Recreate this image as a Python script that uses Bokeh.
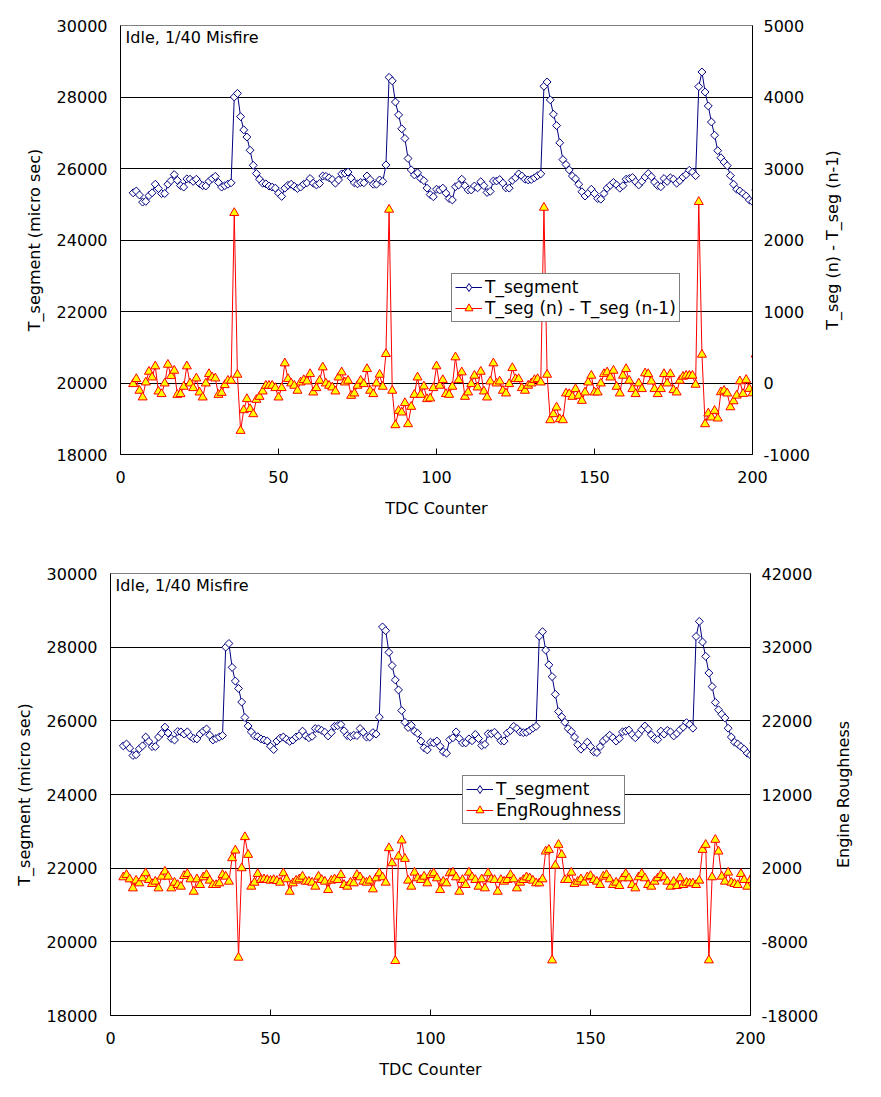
import math
from bokeh.plotting import figure
from bokeh.models import (Range1d, LinearAxis, FixedTicker, Label, Legend, LegendItem,
                          NumeralTickFormatter)
from bokeh.layouts import column, row
from bokeh.embed import file_html
from bokeh.resources import INLINE

FONT = "DejaVu Sans"

# ---------------- data ----------------
tdc = list(range(4, 202))

t_segment = [
    25320, 25370, 25260, 25060, 25080, 25240, 25320, 25560, 25440, 25300,
    25300, 25560, 25660, 25830, 25670, 25520, 25480, 25710, 25700, 25640,
    25700, 25580, 25520, 25510, 25640, 25720, 25780, 25610, 25480, 25520,
    25560, 25600,
    28000, 28100, 27450, 27080, 26880, 26510, 26090, 25860, 25700, 25590,
    25570, 25510, 25480, 25450, 25310, 25220,
    25450, 25530, 25560, 25500, 25440, 25480, 25560, 25600, 25720, 25590,
    25540, 25580, 25790, 25780, 25740, 25690, 25590, 25680, 25850, 25870,
    25900, 25730, 25600, 25570, 25610, 25600, 25790, 25690, 25560, 25560,
    25680, 25640, 26100,
    28550, 28450, 27860, 27500, 27110, 26840, 26280, 25960, 25820, 25880,
    25720, 25660, 25450, 25270, 25210, 25420, 25400,
    25450, 25310, 25160, 25120, 25490, 25540, 25700, 25520, 25400, 25400,
    25510, 25460, 25630, 25520, 25330, 25360, 25650, 25650, 25690, 25590,
    25460, 25450, 25670, 25740, 25850, 25790, 25700, 25680, 25690, 25740,
    25800, 25850,
    28300, 28420, 27920, 27520, 27200, 26720, 26250, 26110, 25960, 25790,
    25710,
    25560, 25350, 25230, 25310, 25420, 25300, 25160, 25140, 25300, 25450,
    25530, 25610, 25540, 25450, 25520, 25700, 25720, 25750, 25630, 25540,
    25640, 25760, 25860, 25770, 25620, 25520, 25490, 25720, 25640, 25740,
    25700, 25590, 25660, 25760, 25830, 25950, 25900, 25800,
    28290, 28700, 28140, 27750, 27300, 26930, 26500, 26300, 26180, 26080,
    25800, 25560, 25420, 25370, 25300, 25230, 25120, 25070, 25400,
]

seg_diff = [
    -14, 56, -107, -200, 9, 159, 79, 234, -117, -154,
    -5, 257, 98, 173, -164, -154, -51, 234, -5, -70,
    65, -131, -201, -5, 126, 79, 65, -164, -136, -28,
    33, 33,
    2379, 117, -668, -379, -224, -364, -435, -234, -192, -117,
    -37, -37, -37, -70, -201, -70,
    276, 56, -5, -37, -107, 9, 42, 23, 126, -131,
    -70, 33, 220, -5, -37, -61, -117, 79, 150, 9,
    33, -178, -145, -37, 33, -14, 196, -107, -154, -5,
    117, -51, 407, 2425,
    -107, -589, -388, -411, -280, -575, -332, -164, 79, -164,
    -47, -224, -215, -70, 234, -37,
    42, -154, -164, -51, 360, 42, 150, -192, -131, -14,
    103, -61, 159, -117, -201, 23, 276, -5, 23, -107,
    -145, -14, 210, 56, 56, -70, -107, -37, -5, 42,
    56, 9,
    2453, 117, -519, -435, -341, -505, -519, -145, -154, -192,
    -84, -178,
    -248, -131, 9, 103, -131, -131, -5, 126, 150, 79,
    173, -51, -145, 103, 196, 33, -84, -154, -5, -84,
    136, 126, 23, -84, -154, -84, 126, -5, 126, -98,
    -131, 33, 89, 103, 103, 103, -23,
    2533, 397, -575, -425, -481, -388, -495, -128, -107, -145,
    -338, -254, -175, 25, -151, 45, -81, -143, 400,
]

eng_roughness = [
    773, 1091, 500, -727, 318, -45, 636, 1318, 409, -136,
    182, -727, 864, 1545, 864, -727, 45, -273, -500, 955,
    1227, 500, -1182, 500, -273, 773, 1091, 318, -273, -273,
    -45, 1091, 864, 182,
    3364, 4409, -10135, 2000, 6227, 3818, -500,
    45, 1227, 409, 500, 409, 318, 409, 273, 45, 1318,
    500, -1182, -45, 318, 500, 864, 182, 182, 45, -500,
    864, 409, 182, -955, 318, 500, 409, 1091, -273, -500,
    45, -45, 1091, 773, 182, 45, 318, -864, 636, 1318,
    773, 45,
    4727, 2682, -10590, 3591, 5773, 3273, 318, -500,
    1409, 636,
    409, 864, -45, 1091, 1318, 636, -955, 182, -45, 1318,
    1409, 773, -1182, 409, -273, 1409, 773, 409, -500, 500,
    -727, 1318, 500, 409, -1182, 409, 182, 409, 1091, 500,
    -727, 45, 409, 773, 636, 318, -45, -45, 500,
    4270, 4500, -10500, 2360, 5180, 3820, 409,
    409, 1409, -136, 182, 500, 45, 773, 955, 409, 182,
    -273, 864, 1091, 500, -273, 45, -409, 636, 1227, 636,
    -273, -727, 773, 1227, 636, -273, -500, 182, 636, 1091,
    773, 182, -500, 182, -409, 636, -273, 45, -45, -45,
    -273, 318,
    4500, 5180, -10500, 773, 5860, 4270, 864,
    182, 1409, 45, -136, -273, 1227, 409, -500, 409, 1200,
]

x_ticks = [0, 50, 100, 150, 200]
left_ticks = [18000, 20000, 22000, 24000, 26000, 28000, 30000]
right_ticks_top = [-1000, 0, 1000, 2000, 3000, 4000, 5000]
right_ticks_bottom = [-18000, -8000, 2000, 12000, 22000, 32000, 42000]
title_note = "Idle, 1/40 Misfire"

NAVY = "#000080"
RED = "#FF0000"
YELLOW = "#FFFF00"


def style_axis(ax, standoff=13):
    ax.axis_line_color = "black"
    ax.axis_line_width = 1
    ax.major_label_text_font = FONT
    ax.major_label_text_font_size = "16px"
    ax.major_label_text_color = "black"
    ax.axis_label_text_font = FONT
    ax.axis_label_text_font_size = "16px"
    ax.axis_label_text_font_style = "normal"
    ax.axis_label_text_color = "black"
    ax.major_label_standoff = standoff
    ax.minor_tick_line_color = None


def build(width, height, bl, br, bt, bb, right_range, right_ticks,
          second_y, second_label, legend_loc, note_y):
    p = figure(width=width, height=height, output_backend="svg", toolbar_location=None,
               x_range=Range1d(0, 200), y_range=Range1d(18000, 30000),
               min_border_left=bl, min_border_right=br, min_border_top=bt,
               min_border_bottom=bb)
    p.background_fill_color = "white"
    p.border_fill_color = "white"
    p.outline_line_color = "#808080"
    p.outline_line_width = 1
    p.extra_y_ranges = {"r": Range1d(*right_range)}

    xa = p.xaxis[0]
    xa.ticker = FixedTicker(ticks=x_ticks)
    style_axis(xa, standoff=16)
    xa.major_tick_in = 6
    xa.major_tick_out = 0
    xa.axis_label = "TDC Counter"
    xa.axis_label_standoff = 13

    ya = p.yaxis[0]
    ya.ticker = FixedTicker(ticks=left_ticks)
    ya.formatter = NumeralTickFormatter(format="0")
    style_axis(ya)
    ya.major_tick_in = 0
    ya.major_tick_out = 0
    ya.axis_label = "T_segment (micro sec)"
    ya.axis_label_standoff = 10

    ra = LinearAxis(y_range_name="r", ticker=FixedTicker(ticks=right_ticks),
                    formatter=NumeralTickFormatter(format="0"))
    style_axis(ra, standoff=11)
    ra.major_tick_in = 0
    ra.major_tick_out = 0
    p.add_layout(ra, "right")

    p.xgrid.grid_line_color = None
    p.ygrid.ticker = FixedTicker(ticks=[20000, 22000, 24000, 26000, 28000])
    p.ygrid.grid_line_color = "black"
    p.ygrid.grid_line_width = 1

    l1 = p.line(tdc, t_segment, line_color=NAVY, line_width=1)
    p.scatter(tdc, t_segment, marker="square", angle=math.pi / 4, size=5.6,
              line_color=NAVY, fill_color="white", line_width=1)
    # legend swatch for the diamond series, placed outside the visible x range
    k1 = p.scatter([-50], [25000], marker="diamond", size=11, line_color=NAVY,
                   fill_color="white", line_width=1)
    l2 = p.line(tdc, second_y, line_color=RED, line_width=1, y_range_name="r")
    m2 = p.scatter(tdc, second_y, marker="triangle", size=9, line_color=RED,
                   fill_color=YELLOW, line_width=1, y_range_name="r")

    legend = Legend(items=[LegendItem(label="T_segment", renderers=[l1, k1]),
                           LegendItem(label=second_label, renderers=[l2, m2])],
                    location=legend_loc)
    legend.label_text_font = FONT
    legend.label_text_font_size = "17px"
    legend.label_text_color = "black"
    legend.border_line_color = "black"
    legend.border_line_width = 1
    legend.background_fill_color = "white"
    legend.background_fill_alpha = 1
    legend.padding = 3
    legend.spacing = 1
    legend.margin = 0
    legend.glyph_width = 27
    legend.glyph_height = 20
    legend.label_height = 20
    legend.label_standoff = 3
    p.add_layout(legend, "center")

    p.add_layout(Label(x=1.6, y=note_y, text=title_note, text_font=FONT,
                       text_font_size="16px", text_color="black",
                       text_baseline="middle"))
    return p


def side_title(text, width, height, bt, bb):
    """Narrow strip holding the right-hand axis title, reading bottom-to-top."""
    f = figure(width=width, height=height, output_backend="svg", toolbar_location=None,
               x_range=Range1d(0, 1), y_range=Range1d(0, 1),
               x_axis_type=None, y_axis_type=None,
               min_border_left=0, min_border_right=0,
               min_border_top=bt, min_border_bottom=bb)
    f.outline_line_color = None
    f.background_fill_color = "white"
    f.border_fill_color = "white"
    f.add_layout(Label(x=0.5, y=0.5, text=text, angle=math.pi / 2,
                       text_font=FONT, text_font_size="16px", text_color="black",
                       text_align="center", text_baseline="middle"))
    return f


p1 = build(817, 538, 120, 65, 25, 84, (-1000, 5000), right_ticks_top,
           seg_diff, "T_seg (n) - T_seg (n-1)", (331, 132), 29664)
s1 = side_title("T_seg (n) - T_seg (n-1)", 30, 538, 25, 84)
p2 = build(828, 550, 110, 78, 35, 73, (-18000, 42000), right_ticks_bottom,
           eng_roughness, "EngRoughness", (352, 191), 29674)
s2 = side_title("Engine Roughness", 30, 550, 35, 73)

layout = column(row(p1, s1, spacing=0), row(p2, s2, spacing=0), spacing=0)
open("out.html", "w").write(file_html(layout, INLINE))
